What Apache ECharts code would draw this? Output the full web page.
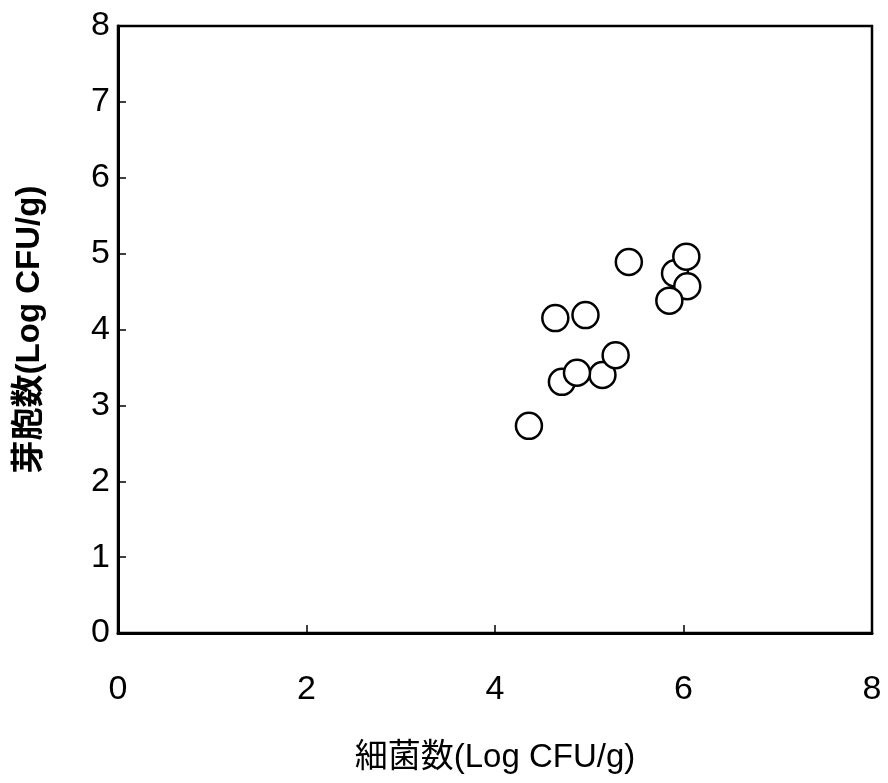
<!DOCTYPE html>
<html>
<head>
<meta charset="utf-8">
<script src="https://cdn.jsdelivr.net/npm/echarts@6/dist/echarts.min.js"></script>
<style>
  html, body { margin: 0; padding: 0; background: #fff; }
  #chart { width: 888px; height: 783px; }
</style>
</head>
<body>
<div id="chart"></div>
<script>
// Bacterial count vs spore count (Log CFU/g) per sample
const bacteriaLog = [5.91, 4.71, 5.14, 4.36, 4.64, 4.96, 4.87, 5.28, 5.42, 6.04, 5.85, 6.03];
const sporeLog    = [4.74, 3.31, 3.40, 2.73, 4.15, 4.19, 3.43, 3.66, 4.89, 4.57, 4.38, 4.96];

const xTicks = [0, 2, 4, 6, 8];
const yTicks = [0, 1, 2, 3, 4, 5, 6, 7, 8];

const xTitle = '細菌数(Log CFU/g)';
const yTitle = '芽胞数(Log CFU/g)';

const points = bacteriaLog.map((x, i) => [x, sporeLog[i]]);
const FONT = '"Liberation Sans", "Noto Sans CJK JP", sans-serif';

const chart = echarts.init(document.getElementById('chart'), null, { renderer: 'canvas' });
chart.setOption({
  animation: false,
  backgroundColor: '#ffffff',
  grid: {
    left: 118, top: 26, right: 16, bottom: 150,
    show: true, borderColor: '#000', borderWidth: 2.5, backgroundColor: 'transparent'
  },
  xAxis: {
    type: 'value',
    min: xTicks[0], max: xTicks[xTicks.length - 1], interval: 2,
    name: xTitle, nameLocation: 'middle', nameGap: 108,
    nameTextStyle: { color: '#000', fontSize: 33, fontFamily: FONT },
    axisLine: { show: true, lineStyle: { color: '#000', width: 3 } },
    axisTick: { show: true, inside: true, length: 8, lineStyle: { color: '#000', width: 1.5 } },
    axisLabel: { color: '#000', fontSize: 34, fontFamily: FONT, margin: 40 },
    splitLine: { show: false }
  },
  yAxis: {
    type: 'value',
    min: yTicks[0], max: yTicks[yTicks.length - 1], interval: 1,
    name: yTitle, nameLocation: 'middle', nameGap: 72, nameRotate: 90,
    nameTextStyle: { color: '#000', fontSize: 33, fontFamily: FONT, fontWeight: 'bold' },
    axisLine: { show: true, lineStyle: { color: '#000', width: 3 } },
    axisTick: { show: true, inside: true, length: 8, lineStyle: { color: '#000', width: 1.5 } },
    axisLabel: { color: '#000', fontSize: 34, fontFamily: FONT, margin: 8 },
    splitLine: { show: false }
  },
  series: [{
    type: 'scatter',
    data: points,
    symbol: 'circle',
    symbolSize: 26,
    itemStyle: { color: '#fff', borderColor: '#000', borderWidth: 2.5, opacity: 1 },
    emphasis: { disabled: true }
  }]
});
</script>
</body>
</html>
